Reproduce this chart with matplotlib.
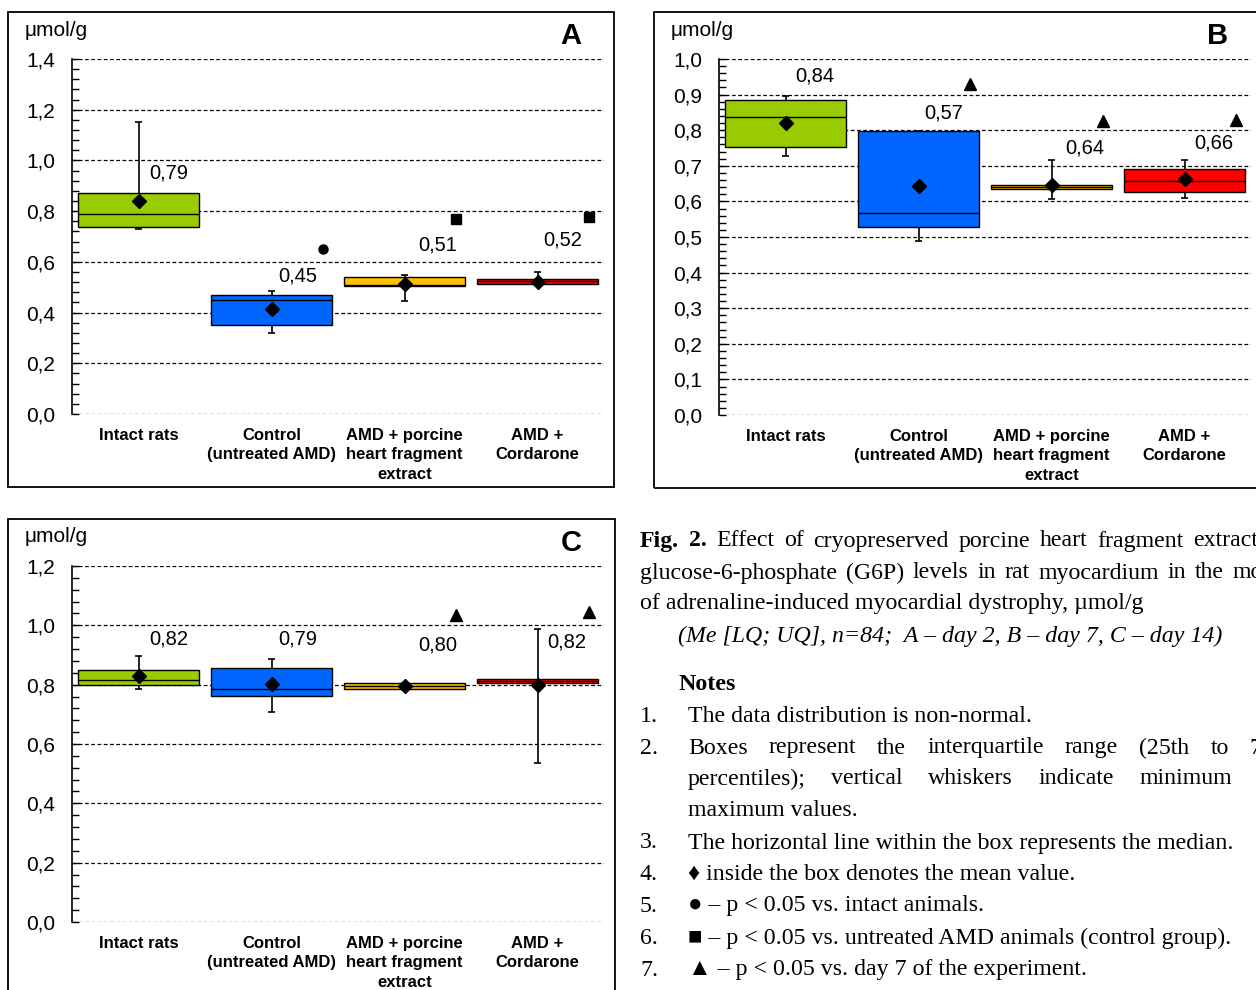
import matplotlib
matplotlib.use("Agg")
import matplotlib.pyplot as plt
from matplotlib.patches import Rectangle
from matplotlib.ticker import MultipleLocator, FuncFormatter

W, H = 1256, 990

# groups (same for all three panels)
groups = ["Intact rats", "Control\n(untreated AMD)",
          "AMD + porcine\nheart fragment\nextract", "AMD +\nCordarone"]
colors = ["#99cc00", "#0066ff", "#ffc000", "#ff0000"]

# panel A - day 2
a_q1 = [0.737, 0.351, 0.505, 0.513]
a_q3 = [0.871, 0.469, 0.540, 0.532]
a_med = [0.79, 0.45, 0.51, 0.523]
a_mean = [0.84, 0.414, 0.513, 0.52]
a_min = [0.73, 0.32, 0.445, 0.513]
a_max = [1.15, 0.485, 0.548, 0.56]
a_text = ["0,79", "0,45", "0,51", "0,52"]

# panel B - day 7
b_q1 = [0.753, 0.528, 0.635, 0.626]
b_q3 = [0.885, 0.798, 0.646, 0.691]
b_med = [0.837, 0.567, 0.64, 0.657]
b_mean = [0.82, 0.643, 0.645, 0.663]
b_min = [0.728, 0.489, 0.607, 0.61]
b_max = [0.896, 0.798, 0.716, 0.716]
b_text = ["0,84", "0,57", "0,64", "0,66"]

# panel C - day 14
c_q1 = [0.799, 0.762, 0.785, 0.806]
c_q3 = [0.849, 0.856, 0.806, 0.818]
c_med = [0.816, 0.785, 0.795, 0.812]
c_mean = [0.829, 0.802, 0.795, 0.80]
c_min = [0.785, 0.708, 0.785, 0.536]
c_max = [0.897, 0.886, 0.806, 0.988]
c_text = ["0,82", "0,79", "0,80", "0,82"]

# significance marks: (group, value, marker)
a_sig = [(1, 0.65, "o"), (2, 0.77, "s"), (3, 0.777, "s")]
b_sig = [(1, 0.93, "^"), (2, 0.826, "^"), (3, 0.829, "^")]
c_sig = [(2, 1.035, "^"), (3, 1.045, "^")]

plt.rcParams["font.family"] = ["Liberation Sans", "DejaVu Sans"]
fig = plt.figure(figsize=(W / 100, H / 100), dpi=100)


def px(x, y):
    return x / W, 1 - y / H


def panel(left, top, bottom, ymax, major, minor, q1, q3, med, mean, mn, mx,
          texts, text_y, text_dx, sig, letter, frame):
    fx, fy = px(frame[0], frame[3])
    fig.add_artist(Rectangle((fx, fy), (frame[2] - frame[0]) / W,
                             (frame[3] - frame[1]) / H, transform=fig.transFigure,
                             fill=False, ec="black", lw=1.3, clip_on=False))
    ax = fig.add_axes([left / W, 1 - bottom / H, 532 / W, (bottom - top) / H])
    ax.set_xlim(-0.5, 3.5)
    ax.set_ylim(0, ymax)
    for s in ["top", "right", "bottom"]:
        ax.spines[s].set_visible(False)
    ax.spines["left"].set_linewidth(1.2)
    ax.yaxis.set_major_locator(MultipleLocator(major))
    ax.yaxis.set_minor_locator(MultipleLocator(minor))
    ax.yaxis.set_major_formatter(FuncFormatter(lambda v, p: f"{v:.1f}".replace(".", ",")))
    ax.tick_params(axis="y", which="both", direction="in", length=5, width=1,
                   labelsize=15, pad=12)
    ax.tick_params(axis="x", length=0, pad=10)
    ax.set_xticks(range(4))
    ax.set_xticklabels(groups, fontsize=12, fontweight="bold", linespacing=1.38)
    ax.set_axisbelow(True)
    ax.yaxis.grid(True, which="major", color="black", lw=0.9, ls=(0, (3, 2)))
    x = list(range(4))
    ax.bar(x, [b - a for a, b in zip(q1, q3)], bottom=q1, width=0.91,
           color=colors, edgecolor="black", linewidth=1.0, zorder=2)
    ax.hlines(med, [i - 0.455 for i in x], [i + 0.455 for i in x],
              color="black", lw=1.0, zorder=3)
    ax.vlines(x, q3, mx, color="black", lw=1.2, zorder=3)
    ax.vlines(x, mn, q1, color="black", lw=1.2, zorder=3)
    ax.hlines(mx, [i - 0.03 for i in x], [i + 0.03 for i in x], color="black", lw=1.2, zorder=3)
    ax.hlines(mn, [i - 0.03 for i in x], [i + 0.03 for i in x], color="black", lw=1.2, zorder=3)
    ax.plot(x, mean, "D", color="black", ms=7, zorder=4)
    for i in x:
        ax.text(i + text_dx[i], text_y[i], texts[i], fontsize=14.5, ha="center", va="center")
    for g, v, m in sig:
        ax.plot(g + 0.39, v, m, color="black", ms=8 if m == "^" else 6.5, zorder=4)
    fig.text(*px(frame[0] + 17, top - 29), "μmol/g", fontsize=15, va="center")
    fig.text(*px(left + 499, top - 23), letter, fontsize=21, fontweight="bold",
             ha="center", va="center")
    return ax


panel(72, 59, 414, 1.4, 0.2, 0.04, a_q1, a_q3, a_med, a_mean, a_min, a_max,
      a_text, [0.95, 0.544, 0.666, 0.686], [0.23, 0.2, 0.25, 0.19], a_sig, "A",
      (8, 12, 614, 487))
panel(719, 59, 415, 1.0, 0.1, 0.02, b_q1, b_q3, b_med, b_mean, b_min, b_max,
      b_text, [0.952, 0.848, 0.75, 0.764], [0.22, 0.19, 0.25, 0.22], b_sig, "B",
      (654, 12, 1263, 488))
panel(72, 566, 922, 1.2, 0.2, 0.04, c_q1, c_q3, c_med, c_mean, c_min, c_max,
      c_text, [0.954, 0.954, 0.934, 0.944], [0.23, 0.2, 0.25, 0.22], c_sig, "C",
      (8, 519, 615, 1000))

# caption (Times-like serif); justified lines run past the right edge as in the source
serif = ["Liberation Serif", "DejaVu Serif"]
FS = 17.2
renderer = fig.canvas.get_renderer()


def justify(words, x0, x1, y):
    items = []
    for w in words:
        if isinstance(w, tuple):
            word, weight = w
        else:
            word, weight = w, "normal"
        t = fig.text(*px(x0, y), word, family=serif, fontsize=FS, fontweight=weight,
                     va="center")
        items.append(t)
    widths = [t.get_window_extent(renderer).width for t in items]
    gap = (x1 - x0 - sum(widths)) / (len(items) - 1)
    xx = x0
    for t, wd in zip(items, widths):
        t.set_position(px(xx, y))
        xx += wd + gap


def line(txt, x, y, **kw):
    fig.text(*px(x, y), txt, family=serif, fontsize=FS, va="center", **kw)


RIGHT = 1292
justify([("Fig.", "bold"), ("2.", "bold")] +
        "Effect of cryopreserved porcine heart fragment extract on".split(),
        640, RIGHT, 541)
justify("glucose-6-phosphate (G6P) levels in rat myocardium in the model".split(),
        640, RIGHT, 573)
line("of adrenaline-induced myocardial dystrophy, µmol/g", 640, 604)
line("(Me [LQ; UQ], n=84;  A – day 2, B – day 7, C – day 14)", 678, 636, style="italic")
line("Notes", 678, 684, fontweight="bold")

notes = [
    ("1.", "The data distribution is non-normal.", 716),
    ("3.", "The horizontal line within the box represents the median.", 843),
    ("4.", "♦ inside the box denotes the mean value.", 874),
    ("5.", "● – p < 0.05 vs. intact animals.", 906),
    ("6.", "■ – p < 0.05 vs. untreated AMD animals (control group).", 938),
    ("7.", "▲ – p < 0.05 vs. day 7 of the experiment.", 970),
]
for num, txt, y in notes:
    line(num, 640, y)
    line(txt, 688, y)
line("2.", 640, 748)
justify("Boxes represent the interquartile range (25th to 75th".split(), 688, RIGHT, 748)
justify("percentiles); vertical whiskers indicate minimum and".split(), 688, RIGHT, 779)
line("maximum values.", 688, 810)

fig.savefig("out.png", dpi=100)
